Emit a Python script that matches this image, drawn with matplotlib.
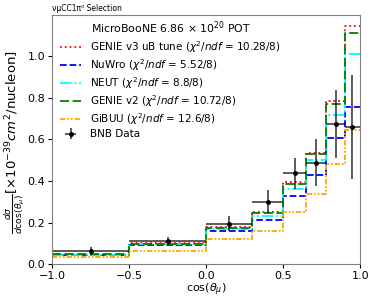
'''
numu CC1pi0 differential cross section vs cos(theta_mu)
'''
import numpy as np
import matplotlib
matplotlib.use('Agg')
import matplotlib.pyplot as plt

# bin edges in cos(theta_mu)
bin_edges = [-1.0, -0.5, 0.0, 0.3, 0.5, 0.65, 0.78, 0.9, 1.0]

# generator predictions (x 1e-39 cm^2/nucleon)
genie_v3 = [0.047, 0.101, 0.181, 0.250, 0.397, 0.534, 0.785, 1.147]
nuwro = [0.046, 0.091, 0.162, 0.213, 0.328, 0.431, 0.607, 0.758]
neut = [0.044, 0.096, 0.171, 0.232, 0.364, 0.501, 0.719, 1.012]
genie_v2 = [0.048, 0.099, 0.176, 0.245, 0.386, 0.529, 0.772, 1.112]
gibuu = [0.034, 0.065, 0.120, 0.162, 0.250, 0.340, 0.482, 0.646]

# BNB data
data_val = [0.065, 0.111, 0.196, 0.300, 0.437, 0.488, 0.675, 0.659]
data_err = [0.018, 0.022, 0.034, 0.055, 0.075, 0.113, 0.163, 0.250]

chi2 = {'GENIE v3 uB tune': '10.28/8', 'NuWro': '5.52/8', 'NEUT': '8.8/8',
        'GENIE v2': '10.72/8', 'GiBUU': '12.6/8'}

edges = np.array(bin_edges)
centers = 0.5 * (edges[1:] + edges[:-1])
half_width = 0.5 * (edges[1:] - edges[:-1])

fig = plt.figure(figsize=(3.74, 2.99), dpi=100)
ax = fig.add_axes([0.139, 0.116, 0.824, 0.835])

preds = [
    ('GENIE v3 uB tune', genie_v3, 'red', ':'),
    ('NuWro', nuwro, 'blue', '--'),
    ('NEUT', neut, 'cyan', '-.'),
    ('GENIE v2', genie_v2, 'green', (0, (5, 2))),
    ('GiBUU', gibuu, 'orange', (0, (3, 1, 1, 1, 1, 1))),
]
for name, vals, col, ls in preds:
    vals = np.array(vals)
    ax.step(edges, np.append(vals, vals[-1]), where='post', color=col,
            linestyle=ls, linewidth=1.3,
            label=name + r' ($\chi^2/ndf$ = ' + chi2[name] + ')')

ax.errorbar(centers, data_val, yerr=data_err, xerr=half_width, fmt='o',
            color='black', ecolor=(0, 0, 0, 0.75), markersize=2.5,
            elinewidth=1.2, label='BNB Data')

ax.set_xlim(-1, 1)
ax.set_ylim(0, 1.2)
ax.set_xticks([-1.0, -0.5, 0.0, 0.5, 1.0])
ax.set_yticks([0.0, 0.2, 0.4, 0.6, 0.8, 1.0])
ax.tick_params(labelsize=8, pad=2, length=3)
for s in ax.spines.values():
    s.set_color('gray')

ax.set_xlabel(r'cos($\theta_{\mu}$)', fontsize=8, labelpad=0)
ax.set_ylabel(r'$\frac{d\sigma}{d\cos(\theta_{\mu})}[\times 10^{-39} cm^2/$nucleon]',
              fontsize=9.5)
ax.yaxis.set_label_coords(-0.08, 0.49)

leg = ax.legend(loc='upper left', bbox_to_anchor=(0.01, 1.0), frameon=False,
                fontsize=7.5, title=r'MicroBooNE 6.86 × $10^{20}$ POT',
                title_fontsize=7.8, labelspacing=0.22, handlelength=2.0,
                handletextpad=0.9, borderaxespad=0.1)

fig.text(0.139, 0.973, 'νμCC1π⁰ Selection', fontsize=5.5, va='center')

fig.savefig('out.png', dpi=100)
